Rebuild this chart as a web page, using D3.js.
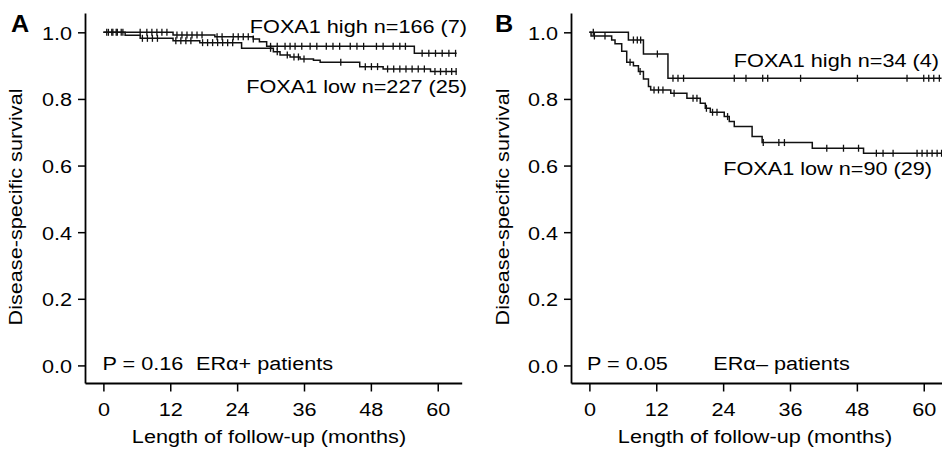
<!DOCTYPE html>
<html>
<head>
<meta charset="utf-8">
<script src="https://cdn.jsdelivr.net/npm/d3@7"></script>
<style>
  html, body { margin: 0; padding: 0; background: #fff; }
  svg { display: block; }
  text { font-family: "Liberation Sans", Arial, Helvetica, sans-serif; fill: #000; }
</style>
</head>
<body>
<svg id="chart" width="942" height="454"></svg>
<script>
// ---------- DATA ----------
const xTicks = [0, 12, 24, 36, 48, 60];
const yTicks = [0, 0.2, 0.4, 0.6, 0.8, 1.0];

// Panel A (ERα+)
const aHighTimes = [0, 12.5, 20, 26.9, 28, 29.3, 55.8];
const aHighSurv  = [1, 0.992, 0.987, 0.98, 0.972, 0.958, 0.937];
const aHighEnd = 63.4;
const aHighCensor = [0.6,1.5,2.3,3.5,6.6,7.8,8.7,9.6,10.5,11.4,13.2,14.1,15,15.9,16.8,17.7,20.4,21.3,23.3,24.2,25.1,26,26.9,30,31.2,32.6,33.5,34.4,35.6,37.1,38.3,40,41.2,42.4,44.3,45.5,46.7,49,50.2,52,53.2,54.2,57.2,58.4,59.6,60.8,62,63.2];

const aLowTimes = [0, 3.9, 6.6, 12.5, 17.3, 24.8, 30.5, 31.7, 33.5, 35.3, 37.7, 38.9, 46, 50.2, 58.7];
const aLowSurv  = [1, 0.991, 0.982, 0.975, 0.969, 0.952, 0.942, 0.932, 0.926, 0.92, 0.916, 0.91, 0.897, 0.89, 0.882];
const aLowEnd = 63.4;
const aLowCensor = [0.9,1.7,2.5,3.2,7,7.9,8.8,9.7,13,13.9,14.8,15.7,17.8,18.7,19.6,20.5,21.4,22.3,23.2,30,31.2,33,34.2,35,36,42.6,47,48.1,49.2,51,52.1,53.2,54.3,55.4,56.5,57.6,59.5,60.5,61.5,62.5,63.3];

// Panel B (ERα−)
const bHighTimes = [0, 7, 9.7, 14.1];
const bHighSurv  = [1, 0.977, 0.935, 0.862];
const bHighEnd = 63.2;
const bHighCensor = [0.7,7.9,8.6,9.2,12.2,15,15.9,16.9,26,28.1,31.1,32,37.9,48.1,57,60,60.9,61.8,62.8];

const bLowTimes = [0, 0.3, 4, 4.6, 5.8, 6.7, 7.9, 8.8, 9.7, 10.6, 11, 14.6, 17.5, 19.9, 20.8, 21.7, 24.2, 25.1, 26, 29.2, 31, 40, 49.2];
const bLowSurv  = [1, 0.989, 0.977, 0.966, 0.943, 0.91, 0.9, 0.882, 0.86, 0.837, 0.827, 0.817, 0.802, 0.787, 0.772, 0.76, 0.747, 0.732, 0.717, 0.687, 0.669, 0.652, 0.637];
const bLowEnd = 63.3;
const bLowCensor = [0.9,2.8,7.3,9.1,11.6,12.4,13.2,15.2,18.6,19.3,21.0,22.1,22.9,24.8,31.2,34,35,42.6,45.6,48.3,51.5,52.7,54.5,58.8,59.7,60.6,61.5,62.4,63.2];

const panels = [
  { letter: "A", left: 85, right: 461.7,
    curves: [
      { times: aHighTimes, surv: aHighSurv, end: aHighEnd, censor: aHighCensor },
      { times: aLowTimes, surv: aLowSurv, end: aLowEnd, censor: aLowCensor }
    ],
    labels: [
      { text: "FOXA1 high n=166 (7)", x: 467, y: 33, anchor: "end" },
      { text: "FOXA1 low n=227 (25)", x: 467, y: 93, anchor: "end" },
      { text: "P = 0.16", x: 102.5, y: 370, anchor: "start" },
      { text: "ERα+ patients", x: 196, y: 370, anchor: "start" }
    ],
    letterX: 11, ylabX: 22, xlabX: 269 },
  { letter: "B", left: 571, right: 947.7,
    curves: [
      { times: bHighTimes, surv: bHighSurv, end: bHighEnd, censor: bHighCensor },
      { times: bLowTimes, surv: bLowSurv, end: bLowEnd, censor: bLowCensor }
    ],
    labels: [
      { text: "FOXA1 high n=34 (4)", x: 939, y: 66.5, anchor: "end" },
      { text: "FOXA1 low n=90 (29)", x: 932, y: 175, anchor: "end" },
      { text: "P = 0.05", x: 587, y: 370, anchor: "start" },
      { text: "ERα– patients", x: 713.3, y: 370, anchor: "start" }
    ],
    letterX: 495, ylabX: 509, xlabX: 755 }
];

// ---------- DRAW ----------
const svg = d3.select("#chart");
const TOP = 13, BOTTOM = 383;
const SX = 1.14;   // horizontal stretch of the reference lettering
const FS = 19;

function addText(g, str, x, y, anchor, opts = {}) {
  const t = g.append("text")
    .attr("transform", `translate(${x},${y})${opts.rotate ? " rotate(" + opts.rotate + ")" : ""} scale(${opts.sx || SX},1)`)
    .attr("text-anchor", anchor)
    .style("font-size", (opts.size || FS) + "px")
    .text(str);
  if (opts.bold) t.style("font-weight", "bold");
  return t;
}

panels.forEach(p => {
  const x = d3.scaleLinear().domain([-3.3, 64.3]).range([p.left, p.right]);
  const y = d3.scaleLinear().domain([-0.0528, 1.058]).range([BOTTOM, TOP]);
  const g = svg.append("g");

  // axes
  const yAxis = g.append("g").attr("transform", `translate(${p.left},0)`)
    .call(d3.axisLeft(y).tickValues(yTicks).tickSize(7).tickSizeOuter(0).tickFormat(d3.format(".1f")));
  const xAxis = g.append("g").attr("transform", `translate(0,${BOTTOM})`)
    .call(d3.axisBottom(x).tickValues(xTicks).tickSize(8.5).tickSizeOuter(0).tickFormat(d3.format("d")));

  [yAxis, xAxis].forEach(a => {
    a.select(".domain").attr("stroke", "#000").attr("stroke-width", 1.8);
    a.selectAll(".tick line").attr("stroke", "#000").attr("stroke-width", 1.5);
    a.selectAll(".tick text")
      .style("font-size", FS + "px")
      .style("font-family", '"Liberation Sans", Arial, Helvetica, sans-serif')
      .attr("fill", "#000");
  });
  yAxis.selectAll(".tick text").attr("x", 0).attr("dy", "0.36em")
    .attr("transform", `translate(-13,0) scale(${SX},1)`);
  xAxis.selectAll(".tick text").attr("y", 0).attr("dy", 0)
    .attr("transform", `translate(0,32.5) scale(${SX},1)`);

  // curves
  const line = d3.line().x(d => x(d[0])).y(d => y(d[1])).curve(d3.curveStepAfter);
  p.curves.forEach(c => {
    const pts = c.times.map((t, i) => [t, c.surv[i]]);
    pts.push([c.end, c.surv[c.surv.length - 1]]);
    g.append("path").datum(pts)
      .attr("d", line)
      .attr("fill", "none").attr("stroke", "#111").attr("stroke-width", 1.5);

    const survAt = t => {
      let s = c.surv[0];
      c.times.forEach((tt, i) => { if (tt <= t) s = c.surv[i]; });
      return s;
    };
    g.selectAll(null).data(c.censor).enter().append("line")
      .attr("x1", d => x(d)).attr("x2", d => x(d))
      .attr("y1", d => y(survAt(d)) - 3.5).attr("y2", d => y(survAt(d)) + 3.5)
      .attr("stroke", "#111").attr("stroke-width", 1.3);
  });

  // texts
  p.labels.forEach(l => addText(g, l.text, l.x, l.y, l.anchor));
  addText(g, p.letter, p.letterX, 32, "start", { bold: true, size: 24, sx: 1.05 });
  addText(g, "Disease-specific survival", p.ylabX, 207, "middle", { rotate: -90 });
  addText(g, "Length of follow-up (months)", p.xlabX, 443, "middle");
});
</script>
</body>
</html>
